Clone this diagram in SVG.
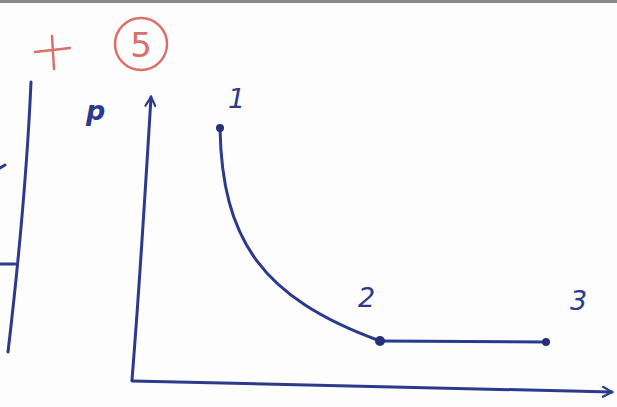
<svg xmlns="http://www.w3.org/2000/svg" width="617" height="407" viewBox="0 0 617 407">
<style>
.ink{fill:none;stroke:#2b3a8c;stroke-width:3;stroke-linecap:round;stroke-linejoin:round}
.lbl{font-family:"DejaVu Sans",sans-serif;font-style:italic;fill:#2b3a8c;font-size:27px}
.red{fill:none;stroke:#d9706a;stroke-width:2.5;stroke-linecap:round}
.dot{fill:#24307a}
</style>
<defs>
<marker id="arr" viewBox="0 0 12 12" refX="10" refY="6" markerWidth="12" markerHeight="12" markerUnits="userSpaceOnUse" orient="auto">
<path d="M1,1 L10,6 L1,11" fill="none" stroke="#2b3a8c" stroke-width="2.2" stroke-linecap="round"/>
</marker>
</defs>
<rect width="617" height="407" fill="#fdfdfd"/>
<rect x="0" y="0" width="617" height="3" fill="#8a8a8a"/>
<g id="grade">
<path class="red" d="M35,52 L70,48 M52,36 L54,69"/>
<circle class="red" cx="141" cy="44" r="26"/>
<text x="141" y="57" text-anchor="middle" font-family="DejaVu Sans, sans-serif" font-size="34" fill="#d9706a">5</text>
</g>
<g id="margin">
<path class="ink" d="M31,82 C28,150 20,250 8,352"/>
<path class="ink" d="M0,264 L15,264"/>
<path class="ink" d="M0,168 L5,165"/>
</g>
<g id="connectors">
<path class="ink" d="M132,380 C140,280 146,180 151,97" marker-end="url(#arr)"/>
<path class="ink" d="M132,381 L612,392" marker-end="url(#arr)"/>
<path class="ink" d="M220,128 C222,240 262,298 380,341"/>
<path class="ink" d="M380,341 L546,342"/>
</g>
<g id="labels">
<text class="lbl" x="86" y="120" font-weight="bold">p</text>
<text class="lbl" x="228" y="108">1</text>
<text class="lbl" x="358" y="307">2</text>
<text class="lbl" x="570" y="310">3</text>
</g>
<g id="point1"><circle class="dot" cx="220" cy="128" r="4"/></g>
<g id="point2"><circle class="dot" cx="380" cy="341" r="5"/></g>
<g id="point3"><circle class="dot" cx="546" cy="342" r="4"/></g>
</svg>
